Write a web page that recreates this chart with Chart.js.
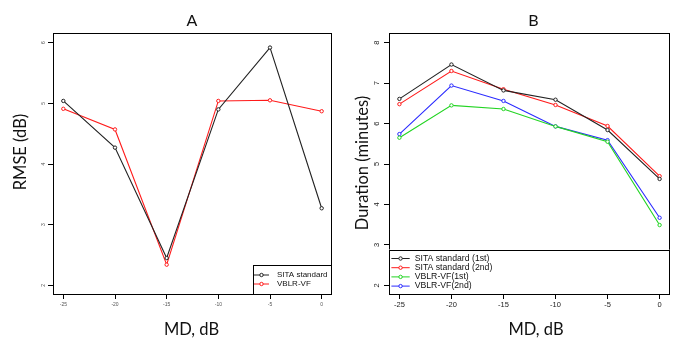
<!DOCTYPE html>
<html><head><meta charset="utf-8">
<script src="https://cdn.jsdelivr.net/npm/chart.js@4/dist/chart.umd.min.js"></script>
<style>
html,body{margin:0;padding:0;background:#fff;}
#wrap{position:relative;width:675px;height:339px;overflow:hidden;background:#fff;}
canvas{position:absolute;top:0;}
</style></head><body>
<div id="wrap">
<canvas id="cA" width="337" height="339" style="left:0"></canvas>
<canvas id="cB" width="338" height="339" style="left:337px"></canvas>
</div>
<script>
// ---- data ----
const mdValues = [-25, -20, -15, -10, -5, 0];
const xTicks = [-25, -20, -15, -10, -5, 0];
const rmseTicks = [2, 3, 4, 5, 6];
const durTicks = [2, 3, 4, 5, 6, 7, 8];

const rmseSita = [5.04, 4.27, 2.45, 4.90, 5.92, 3.27];
const rmseVblr = [4.91, 4.57, 2.34, 5.04, 5.05, 4.87];

const durSita1 = [6.61, 7.46, 6.82, 6.59, 5.84, 4.63];
const durSita2 = [6.48, 7.30, 6.85, 6.46, 5.94, 4.70];
const durVblr1 = [5.65, 6.45, 6.36, 5.93, 5.55, 3.49];
const durVblr2 = [5.74, 6.94, 6.56, 5.93, 5.59, 3.67];

const labelsA = ['SITA standard', 'VBLR-VF'];
const labelsB = ['SITA standard (1st)', 'SITA standard (2nd)', 'VBLR-VF(1st)', 'VBLR-VF(2nd)'];
const panelTitles = ['A', 'B'];
const xTitle = 'MD, dB';
const yTitles = ['RMSE (dB)', 'Duration (minutes)'];

const COL_BLACK = '#222222', COL_RED = '#ff1a1a', COL_GREEN = '#22d422', COL_BLUE = '#2a2aff';

function pts(ys) { return mdValues.map((x, i) => ({ x: x, y: ys[i] })); }
function ds(label, ys, color) {
  return {
    label: label, data: pts(ys), borderColor: color, backgroundColor: color,
    borderWidth: 1.1, tension: 0, pointRadius: 1.7, pointBorderWidth: 1,
    pointBorderColor: color, pointBackgroundColor: '#ffffff', pointStyle: 'circle'
  };
}

const TEXT_FONT = 'Lato, "Open Sans", "DejaVu Sans", sans-serif';
const TICK_FONT = '"Liberation Sans", Arial, sans-serif';

const panelPlugin = {
  id: 'panel',
  afterDraw(chart, args, o) {
    const ctx = chart.ctx, a = chart.chartArea;
    ctx.save();
    // plot box
    ctx.strokeStyle = '#000'; ctx.lineWidth = 1;
    const L = Math.round(a.left) + 0.5, R = Math.round(a.right) - 0.5,
          T = Math.round(a.top) + 0.5, B = Math.round(a.bottom) - 0.5;
    ctx.strokeRect(L, T, R - L, B - T);
    // legend
    const lg = o.legend;
    const bx = lg.left, by = lg.top;
    ctx.fillStyle = '#fff';
    ctx.fillRect(bx, by, R - bx, B - by);
    ctx.strokeStyle = '#000';
    ctx.strokeRect(Math.round(bx) + 0.5, Math.round(by) + 0.5, R - Math.round(bx) - 0.5, B - Math.round(by) - 0.5);
    ctx.font = lg.fontSize + 'px ' + TICK_FONT;
    ctx.textBaseline = 'middle'; ctx.textAlign = 'left';
    chart.data.datasets.forEach((d, i) => {
      const y = by + lg.rowTop + i * lg.rowGap;
      ctx.strokeStyle = d.borderColor; ctx.lineWidth = 1;
      ctx.beginPath(); ctx.moveTo(bx + lg.lineX0, y); ctx.lineTo(bx + lg.lineX1, y); ctx.stroke();
      ctx.beginPath(); ctx.arc(bx + (lg.lineX0 + lg.lineX1) / 2, y, 1.7, 0, Math.PI * 2);
      ctx.fillStyle = '#fff'; ctx.fill(); ctx.stroke();
      ctx.fillStyle = '#111';
      ctx.fillText(d.label, bx + lg.textX, y);
    });
    // titles
    ctx.fillStyle = '#111';
    ctx.textAlign = 'center'; ctx.textBaseline = 'middle';
    ctx.font = o.titleSize + 'px ' + TEXT_FONT;
    ctx.fillText(o.title, o.titleX, o.titleY);
    ctx.font = o.axisSize + 'px ' + TEXT_FONT;
    ctx.fillText(o.xTitle, o.xTitleX, o.xTitleY);
    ctx.translate(o.yTitleX, o.yTitleY);
    ctx.rotate(-Math.PI / 2);
    ctx.fillText(o.yTitle, 0, 0);
    ctx.restore();
  }
};

function makeChart(id, datasets, yMin, yMax, yTickArr, cfg) {
  return new Chart(document.getElementById(id), {
    type: 'line',
    data: { datasets: datasets },
    options: {
      responsive: false, animation: false, devicePixelRatio: 1,
      layout: { padding: { top: 33, right: cfg.padRight, left: 0, bottom: 0 } },
      plugins: { legend: { display: false }, tooltip: { enabled: false }, title: { display: false }, panel: cfg.panel },
      scales: {
        x: {
          type: 'linear', min: -26, max: 1,
          afterBuildTicks: s => { s.ticks = xTicks.map(v => ({ value: v })); },
          afterFit: s => { s.height = 44; },
          grid: { display: true, drawOnChartArea: false, drawTicks: true, tickLength: 4, color: '#000' },
          border: { display: false },
          ticks: { font: { size: cfg.tickSize, family: TICK_FONT }, color: cfg.tickColor, padding: cfg.xPad, maxRotation: 0, minRotation: 0 }
        },
        y: {
          type: 'linear', min: yMin, max: yMax,
          afterBuildTicks: s => { s.ticks = yTickArr.map(v => ({ value: v })); },
          afterFit: s => { s.width = cfg.yWidth; },
          grid: { display: true, drawOnChartArea: false, drawTicks: true, tickLength: 5, color: '#000' },
          border: { display: false },
          ticks: { font: { size: cfg.tickSize, family: TICK_FONT }, color: cfg.tickColor, padding: cfg.yPad, minRotation: 90, maxRotation: 90, crossAlign: 'center' }
        }
      }
    },
    plugins: [panelPlugin]
  });
}

makeChart('cA', [ds(labelsA[0], rmseSita, COL_BLACK), ds(labelsA[1], rmseVblr, COL_RED)],
  1.84, 6.16, rmseTicks, {
    padRight: 4, yWidth: 53, tickSize: 5, tickColor: '#555', xPad: 3, yPad: 3,
    panel: {
      title: panelTitles[0], titleX: 192, titleY: 20.5, titleSize: 16,
      xTitle: xTitle, xTitleX: 191.5, xTitleY: 330, axisSize: 16.5,
      yTitle: yTitles[0], yTitleX: 20.5, yTitleY: 152,
      legend: { left: 253, top: 265, rowTop: 10, rowGap: 9, lineX0: 1, lineX1: 16, textX: 24, fontSize: 8 }
    }
  });

makeChart('cB', [ds(labelsB[0], durSita1, COL_BLACK), ds(labelsB[1], durSita2, COL_RED),
                 ds(labelsB[2], durVblr1, COL_GREEN), ds(labelsB[3], durVblr2, COL_BLUE)],
  1.76, 8.24, durTicks, {
    padRight: 5, yWidth: 52, tickSize: 7.5, tickColor: '#222', xPad: 1, yPad: 5,
    panel: {
      title: panelTitles[1], titleX: 196.3, titleY: 20.5, titleSize: 16,
      xTitle: xTitle, xTitleX: 199, xTitleY: 330, axisSize: 16.5,
      yTitle: yTitles[1], yTitleX: 25.7, yTitleY: 163,
      legend: { left: 52, top: 249.5, rowTop: 9, rowGap: 9.2, lineX0: 2.4, lineX1: 20.7, textX: 25.7, fontSize: 8.7 }
    }
  });
</script>
</body></html>
